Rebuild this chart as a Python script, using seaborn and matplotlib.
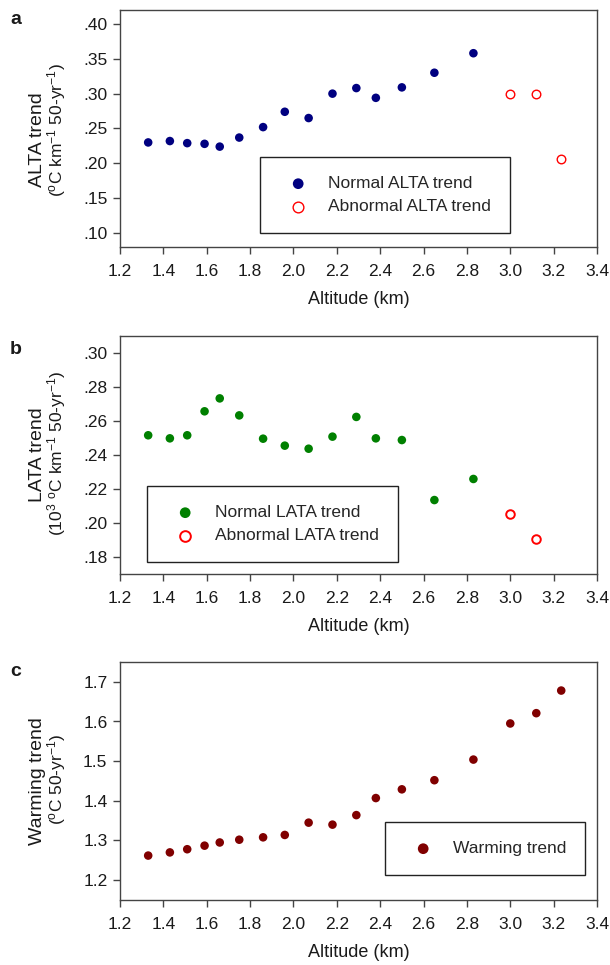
import numpy as np
import pandas as pd
import seaborn as sns
import matplotlib.pyplot as plt
from matplotlib.ticker import FuncFormatter, MultipleLocator

# altitude of each station group (km)
alt = [1.33, 1.43, 1.51, 1.59, 1.66, 1.75, 1.86, 1.96, 2.07, 2.18, 2.29, 2.38,
       2.50, 2.65, 2.83, 3.00, 3.12, 3.235]

# panel a: ALTA trend
alta_normal = [0.230, 0.232, 0.229, 0.228, 0.224, 0.237, 0.252, 0.274, 0.265,
               0.300, 0.308, 0.294, 0.309, 0.330, 0.358]
alta_abnormal = [0.299, 0.300, 0.206]

# panel b: LATA trend
lata_normal = [0.2516, 0.2498, 0.2516, 0.2657, 0.2733, 0.2633, 0.2496, 0.2455,
               0.2437, 0.2508, 0.2624, 0.2498, 0.2488, 0.2135, 0.2259]
lata_abnormal = [0.2051, 0.1904]

# panel c: warming trend
warming = [1.262, 1.270, 1.278, 1.287, 1.295, 1.302, 1.308, 1.314, 1.345,
           1.340, 1.364, 1.407, 1.429, 1.452, 1.504, 1.595, 1.621, 1.678]

sns.set_style('white')
plt.rcParams['font.family'] = ['Liberation Sans', 'DejaVu Sans']
plt.rcParams['mathtext.fontset'] = 'custom'
plt.rcParams['mathtext.rm'] = 'Liberation Sans'
plt.rcParams['mathtext.it'] = 'Liberation Sans'

df_a1 = pd.DataFrame({'alt': alt[:15], 'val': alta_normal})
df_a2 = pd.DataFrame({'alt': alt[15:18], 'val': alta_abnormal})
df_b1 = pd.DataFrame({'alt': alt[:15], 'val': lata_normal})
df_b2 = pd.DataFrame({'alt': alt[15:17], 'val': lata_abnormal})
df_c = pd.DataFrame({'alt': alt, 'val': warming})

W, H = 610, 965
fig = plt.figure(figsize=(6.1, 9.65), dpi=100)

def make_ax(top, bottom):
    return fig.add_axes([120 / W, 1 - bottom / H, 477 / W, (bottom - top) / H])

ax_a = make_ax(10, 247)
ax_b = make_ax(336, 574)
ax_c = make_ax(662, 900)

ms = 38
sns.scatterplot(data=df_a1, x='alt', y='val', ax=ax_a, color='#000080', s=ms,
                edgecolor='none', label='Normal ALTA trend')
sns.scatterplot(data=df_a2, x='alt', y='val', ax=ax_a, facecolor='white', s=ms,
                edgecolor='#ff0000', linewidth=1.0, label='Abnormal ALTA trend')
sns.scatterplot(data=df_b1, x='alt', y='val', ax=ax_b, color='#008000', s=ms,
                edgecolor='none', label='Normal LATA trend')
sns.scatterplot(data=df_b2, x='alt', y='val', ax=ax_b, facecolor='white', s=ms,
                edgecolor='#ff0000', linewidth=1.4, label='Abnormal LATA trend')
sns.scatterplot(data=df_c, x='alt', y='val', ax=ax_c, color='#800000', s=ms,
                edgecolor='none', label='Warming trend')

nolead = FuncFormatter(lambda v, p: f'{v:.2f}'.lstrip('0'))

settings = [
    (ax_a, (0.08, 0.42), 0.05, nolead),
    (ax_b, (0.17, 0.31), 0.02, nolead),
    (ax_c, (1.15, 1.75), 0.1, FuncFormatter(lambda v, p: f'{v:.1f}')),
]
for ax, ylim, step, fmt in settings:
    ax.set_xlim(1.2, 3.4)
    ax.set_ylim(*ylim)
    ax.xaxis.set_major_locator(MultipleLocator(0.2))
    ax.xaxis.set_major_formatter(FuncFormatter(lambda v, p: f'{v:.1f}'))
    ax.yaxis.set_major_locator(MultipleLocator(step))
    ax.yaxis.set_major_formatter(fmt)
    ax.tick_params(axis='both', which='major', direction='out', length=5,
                   width=1, color='#444444', labelsize=12.5, pad=4,
                   bottom=True, left=True, labelcolor='#1a1a1a')
    ax.tick_params(axis='x', pad=7)
    for sp in ax.spines.values():
        sp.set_color('#444444')
        sp.set_linewidth(1.0)
    ax.set_xlabel('Altitude (km)', fontsize=13, labelpad=9, color='#1a1a1a')
    ax.set_ylabel('')

# legends, placed at the boxes seen in the reference (pixel coords)
def place_legend(ax, x0, y0):
    leg = ax.legend(loc='upper left', bbox_to_anchor=(x0 / W, 1 - y0 / H),
                    bbox_transform=fig.transFigure, fontsize=12.5, frameon=True,
                    fancybox=False, framealpha=1, edgecolor='#222222',
                    borderpad=1.1, labelspacing=0.45, handlelength=2.2,
                    handletextpad=0.6, borderaxespad=0, markerscale=1.25)
    leg.get_frame().set_linewidth(1.0)

place_legend(ax_a, 260, 157)
place_legend(ax_b, 147, 486)
place_legend(ax_c, 385, 822)

# two-line y labels
ylabels = [
    ('ALTA trend', r'($^{\rm o}$C km$^{-1}$ 50-yr$^{-1}$)', 140, 130),
    ('LATA trend', r'(10$^{3}$ $^{\rm o}$C km$^{-1}$ 50-yr$^{-1}$)', 455, 453),
    ('Warming trend', r'($^{\rm o}$C 50-yr$^{-1}$)', 781, 779),
]
for main, unit, yc1, yc2 in ylabels:
    fig.text(38 / W, 1 - yc1 / H, main, rotation=90, ha='center', va='center',
             fontsize=14, color='#1a1a1a')
    fig.text(57 / W, 1 - yc2 / H, unit, rotation=90, ha='center', va='center',
             fontsize=12.5, color='#1a1a1a')

for lab, yp in [('a', 19), ('b', 349), ('c', 672)]:
    fig.text(16 / W, 1 - yp / H, lab, ha='center', va='center', fontsize=14,
             fontweight='bold', color='#1a1a1a')

fig.savefig('out.png', dpi=100)
